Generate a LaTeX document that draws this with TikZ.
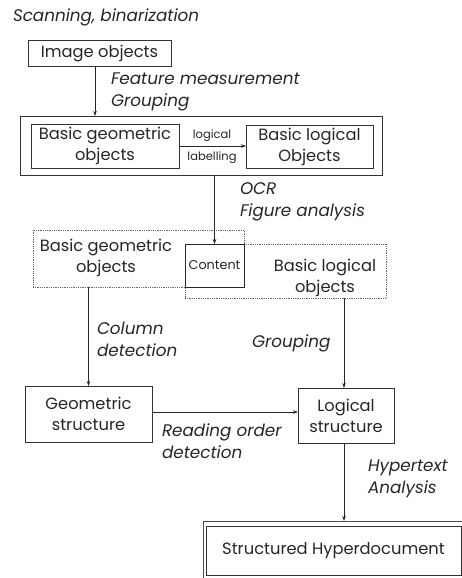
\documentclass[tikz,border=0pt]{standalone}
\usepackage{fontspec}
\setmainfont{Poppins}
\usetikzlibrary{arrows.meta}
\begin{document}
\begin{tikzpicture}[x=1pt,y=-1pt,
  every node/.style={inner sep=0pt,outer sep=0pt,text=black!85},
  mainfont/.style={font=\fontsize{16.3}{21}\selectfont},
  lab/.style={font=\fontsize{16.8}{22}\selectfont\itshape,align=left,anchor=west},
  smallfont/.style={font=\fontsize{11.5}{12}\selectfont},
  box/.style={draw=black!80,line width=0.8pt,minimum width=#1},
  dotbox/.style={draw=black!60,line width=0.8pt,densely dotted},
  arr/.style={draw=black!85,line width=0.7pt,-{Stealth[length=5pt,width=3.5pt]}}
]
\useasboundingbox (0,0) rectangle (462,578);
% top label
\node[lab] (scan) at (13,17) {Scanning, binarization};
% image objects
\node[box=143pt,minimum height=26pt,mainfont] (img) at (99.5,53) {Image objects};
% outer box
\node[box=362pt,minimum height=59pt] (outer) at (201,145.5) {};
\node[box=148pt,minimum height=44pt,mainfont,align=center] (bgo1) at (105,146) {Basic geometric\\objects};
\node[box=127pt,minimum height=43pt,mainfont,align=center] (blo1) at (309.5,146.5) {Basic logical\\Objects};
\node[smallfont] (lg1) at (212,136) {logical};
\node[smallfont] (lg2) at (212,158) {labelling};
% labels
\node[lab] (fm) at (111,92) {Feature measurement\\Grouping};
\node[lab] (ocr) at (240,201.5) {OCR\\Figure analysis};
% dotted boxes
\node[dotbox,minimum width=211pt,minimum height=57pt] (dotL) at (138.5,258.5) {};
\node[dotbox,minimum width=201pt,minimum height=54pt] (dotR) at (285.5,271) {};
\node[draw=black!85,line width=1pt,minimum width=59pt,minimum height=43pt,font=\fontsize{12.8}{14}\selectfont,fill=white] (content) at (214.5,265.5) {Content};
\node[mainfont,align=center] (tL) at (106,257.5) {Basic geometric\\objects};
\node[mainfont,align=center] (tR) at (325,277.5) {Basic logical\\objects};
% column detection etc
\node[lab] (col) at (97,339) {Column\\detection};
\node[lab] (grp) at (252,343) {Grouping};
% structures
\node[box=127pt,minimum height=56pt,mainfont,align=center] (geo) at (88.5,414) {Geometric\\structure};
\node[box=96pt,minimum height=55pt,mainfont,align=center] (log) at (346,415.5) {Logical\\structure};
\node[lab] (rod) at (162,441) {Reading order\\detection};
\node[lab] (hyp) at (368,479) {Hypertext\\Analysis};
% structured hyperdocument
\node[box=255pt,minimum height=49pt,mainfont] (sh) at (333.5,550.5) {Structured Hyperdocument};
\coordinate (shtl) at (203,521);
\coordinate (shbl) at (203,578);
\coordinate (shtr) at (462,521);
\draw[black!70,line width=0.7pt] (shbl) -- (shtl) -- (shtr);
% arrows
\coordinate (xa) at (95,0);
\draw[arr] (img.south -| xa) -- (outer.north -| xa);
\draw[arr] (bgo1.east) -- (blo1.west |- bgo1.east);
\draw[arr] (outer.south -| content.north) -- (content.north);
\draw[arr] (dotL.south -| geo.north) -- (geo.north);
\draw[arr] (dotR.south -| 344,0) -- (log.north -| 344,0);
\draw[arr] (geo.east |- 0,412) -- (log.west |- 0,412);
\draw[arr] (log.south -| 344,0) -- (shtl -| 344,0);
\end{tikzpicture}
\end{document}
